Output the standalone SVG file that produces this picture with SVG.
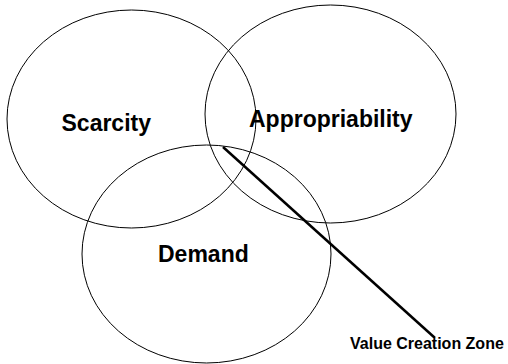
<svg xmlns="http://www.w3.org/2000/svg" width="508" height="364" viewBox="0 0 508 364">
  <style>
    .set { fill: none; stroke: #000; stroke-width: 1; }
    .label { font-family: "Liberation Sans", Arial, sans-serif; font-weight: bold; fill: #000; }
    .big { font-size: 23px; }
    .small { font-size: 16px; }
    .pointer { stroke: #000; stroke-width: 2.5; fill: none; }
  </style>
  <rect width="508" height="364" fill="#fff"/>
  <g id="scarcity">
    <ellipse class="set" cx="131.5" cy="119" rx="124.5" ry="109"/>
    <text class="label big" x="61.5" y="131">Scarcity</text>
  </g>
  <g id="appropriability">
    <ellipse class="set" cx="330.5" cy="114" rx="125.5" ry="109"/>
    <text class="label big" x="249" y="127">Appropriability</text>
  </g>
  <g id="demand">
    <ellipse class="set" cx="206.5" cy="254" rx="124.5" ry="109"/>
    <text class="label big" x="158" y="262">Demand</text>
  </g>
  <g id="connectors">
    <line class="pointer" x1="223" y1="147" x2="435" y2="338"/>
  </g>
  <g id="value-creation-zone">
    <text class="label small" x="350" y="349">Value Creation Zone</text>
  </g>
</svg>
